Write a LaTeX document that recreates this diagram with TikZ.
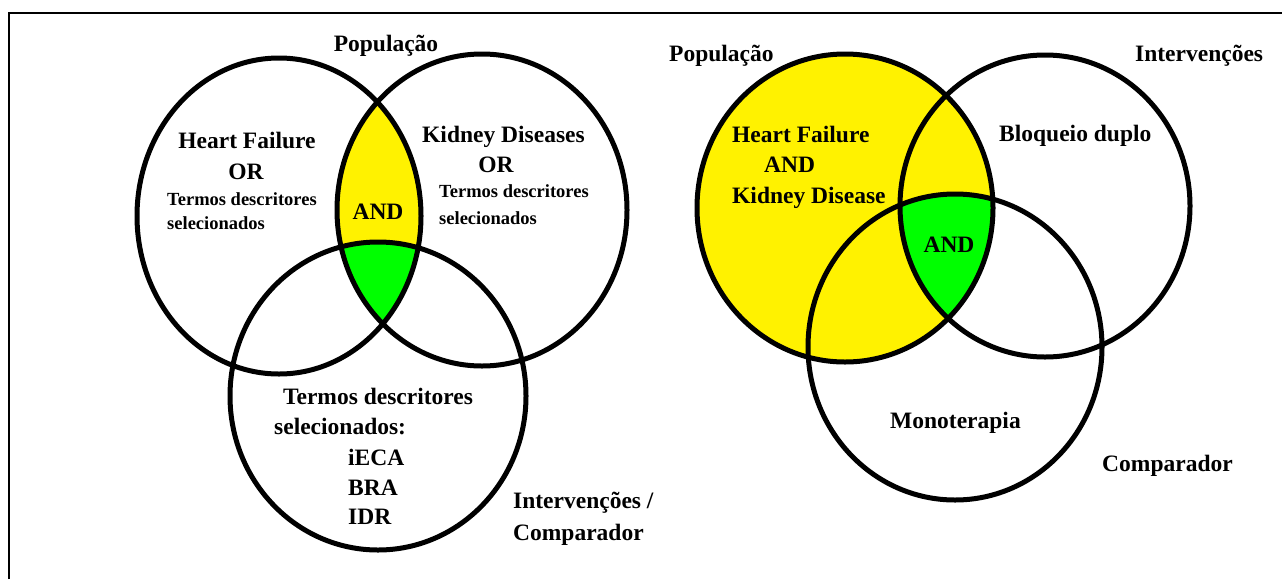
\documentclass[tikz,border=0pt]{standalone}
\usepackage{fontspec}
\setmainfont{Liberation Serif}
\usepackage{xcolor}
\usepackage{tikz}
\usetikzlibrary{positioning}
\definecolor{vennyellow}{RGB}{255,242,0}
\definecolor{venngreen}{RGB}{0,255,0}
\newcommand{\bigtxt}{\fontsize{23.5}{28}\selectfont\bfseries}
\newcommand{\smalltxt}{\fontsize{18.5}{22}\selectfont\bfseries}
\tikzset{
  venn/.style={line width=5pt},
  lbl/.style={font=\bigtxt, inner sep=0pt, anchor=base},
  lblw/.style={lbl, anchor=base west},
  smallw/.style={font=\smalltxt, inner sep=0pt, anchor=base west},
}

\begin{document}
\begin{tikzpicture}[x=1pt,y=-1pt]
      \useasboundingbox (0,0) rectangle (1282,579);
      % frame
      \draw[line width=2pt] (9,579) -- (9,13) -- (1282,13);
      % left diagram: fills
      \begin{scope}
        \clip (279,216) ellipse [x radius=142pt, y radius=158pt];
        \fill[vennyellow] (482,210) ellipse [x radius=145pt, y radius=156pt];
        \clip (482,210) ellipse [x radius=145pt, y radius=156pt];
        \fill[venngreen] (378,396) ellipse [x radius=148pt, y radius=154pt];
      \end{scope}
      \draw[venn] (279,216) ellipse [x radius=142pt, y radius=158pt];
      \draw[venn] (482,210) ellipse [x radius=145pt, y radius=156pt];
      \draw[venn] (378,396) ellipse [x radius=148pt, y radius=154pt];
      % right diagram: fills
      \fill[vennyellow] (845,208) ellipse [x radius=148pt, y radius=154pt];
      \begin{scope}
        \clip (845,208) ellipse [x radius=148pt, y radius=154pt];
        \clip (1045,206) ellipse [x radius=145pt, y radius=151pt];
        \fill[venngreen] (955,347) ellipse [x radius=147pt, y radius=153pt];
      \end{scope}
      \draw[venn] (845,208) ellipse [x radius=148pt, y radius=154pt];
      \draw[venn] (1045,206) ellipse [x radius=145pt, y radius=151pt];
      \draw[venn] (955,347) ellipse [x radius=147pt, y radius=153pt];
      % left labels
      \node[lbl] (popL) at (386,51) {População};
      \node[lbl] (hfL) at (247,148) {Heart Failure};
      \node[lbl] (orA) at (246,179) {OR};
      \node[smallw] (tdA) at (167,205) {Termos descritores};
      \node[smallw] (selA) at (167,229) {selecionados};
      \node[lblw] (kdL) at (422,142) {Kidney Diseases};
      \node[lbl] (orB) at (496,172) {OR};
      \node[smallw] (tdB) at (439,197) {Termos descritores};
      \node[smallw] (selB) at (439,224) {selecionados};
      \node[lbl] (andL) at (378,219) {AND};
      \node[lbl] (tdC) at (378,404) {Termos descritores};
      \node[lblw] (selC) at (274,434) {selecionados:};
      \node[lblw] (ieca) at (348,465) {iECA};
      \node[lblw] (bra) at (348,495) {BRA};
      \node[lblw] (idr) at (348,524) {IDR};
      \node[lblw] (intL) at (513,508) {Intervenções /};
      \node[lblw] (compL) at (513,540) {Comparador};
      % right labels
      \node[lblw] (popR) at (669,61) {População};
      \node[lblw] (intR) at (1135,61) {Intervenções};
      \node[lblw] (hfR) at (732,142) {Heart Failure};
      \node[lblw] (andA) at (764,172) {AND};
      \node[lblw] (kdR) at (732,203) {Kidney Disease};
      \node[lblw] (bloq) at (999,141) {Bloqueio duplo};
      \node[lbl] (andR) at (949,252) {AND};
      \node[lblw] (mono) at (890,428) {Monoterapia};
      \node[lblw] (compR) at (1102,471) {Comparador};
    \end{tikzpicture}
\end{document}
